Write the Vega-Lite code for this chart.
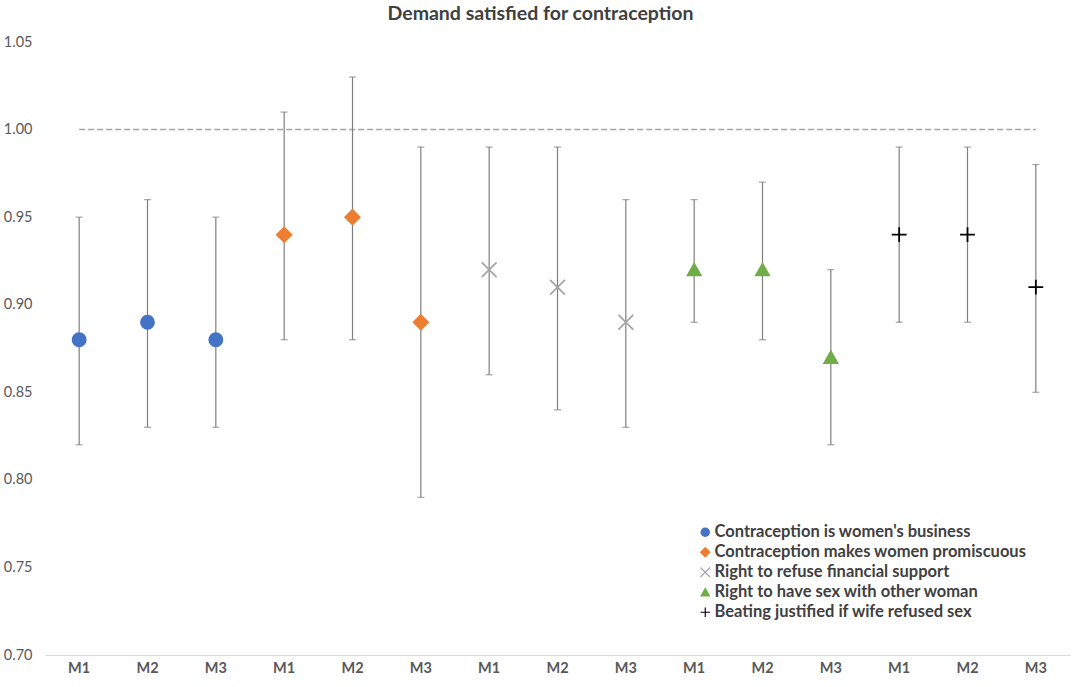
{
  "$schema": "https://vega.github.io/schema/vega-lite/v6.json",
  "width": 1025,
  "height": 613,
  "autosize": "none",
  "padding": {"left": 45, "top": 42, "right": 2, "bottom": 32},
  "background": "white",
  "title": {
    "text": "Demand satisfied for contraception",
    "fontSize": 19.5, "font": "Lato", "fontWeight": "bold", "color": "#404040",
    "anchor": "middle", "dx": -17, "offset": 10
  },
  "datasets": {
    "points": [
      {"key": "1|M1", "series": "Contraception is women's business", "value": 0.88, "lo": 0.82, "hi": 0.95},
      {"key": "1|M2", "series": "Contraception is women's business", "value": 0.89, "lo": 0.83, "hi": 0.96},
      {"key": "1|M3", "series": "Contraception is women's business", "value": 0.88, "lo": 0.83, "hi": 0.95},
      {"key": "2|M1", "series": "Contraception makes women promiscuous", "value": 0.94, "lo": 0.88, "hi": 1.01},
      {"key": "2|M2", "series": "Contraception makes women promiscuous", "value": 0.95, "lo": 0.88, "hi": 1.03},
      {"key": "2|M3", "series": "Contraception makes women promiscuous", "value": 0.89, "lo": 0.79, "hi": 0.99},
      {"key": "3|M1", "series": "Right to refuse financial support", "value": 0.92, "lo": 0.86, "hi": 0.99},
      {"key": "3|M2", "series": "Right to refuse financial support", "value": 0.91, "lo": 0.84, "hi": 0.99},
      {"key": "3|M3", "series": "Right to refuse financial support", "value": 0.89, "lo": 0.83, "hi": 0.96},
      {"key": "4|M1", "series": "Right to have sex with other woman", "value": 0.92, "lo": 0.89, "hi": 0.96},
      {"key": "4|M2", "series": "Right to have sex with other woman", "value": 0.92, "lo": 0.88, "hi": 0.97},
      {"key": "4|M3", "series": "Right to have sex with other woman", "value": 0.87, "lo": 0.82, "hi": 0.92},
      {"key": "5|M1", "series": "Beating justified if wife refused sex", "value": 0.94, "lo": 0.89, "hi": 0.99},
      {"key": "5|M2", "series": "Beating justified if wife refused sex", "value": 0.94, "lo": 0.89, "hi": 0.99},
      {"key": "5|M3", "series": "Beating justified if wife refused sex", "value": 0.91, "lo": 0.85, "hi": 0.98}
    ],
    "ref": [
      {"key": "1|M1", "value": 1.0},
      {"key": "5|M3", "value": 1.0}
    ]
  },
  "encoding": {
    "x": {
      "field": "key", "type": "nominal", "title": null,
      "scale": {
        "domain": ["1|M1", "1|M2", "1|M3", "2|M1", "2|M2", "2|M3", "3|M1", "3|M2", "3|M3", "4|M1", "4|M2", "4|M3", "5|M1", "5|M2", "5|M3"],
        "paddingInner": 0, "paddingOuter": 0
      },
      "axis": {
        "labelExpr": "split(datum.label, '|')[1]",
        "labelAngle": 0, "labelFont": "Lato", "labelFontSize": 14.5, "labelFontWeight": "bold",
        "labelColor": "#595959", "labelPadding": 6,
        "ticks": false, "domainColor": "#D9D9D9", "domainWidth": 1
      }
    }
  },
  "layer": [
    {
      "data": {"name": "ref"},
      "mark": {"type": "line", "color": "#A5A5A5", "strokeDash": [6, 3], "strokeWidth": 1.5},
      "encoding": {
        "y": {
          "field": "value", "type": "quantitative", "title": null,
          "scale": {"domain": [0.7, 1.05], "nice": false, "zero": false},
          "axis": {
            "values": [0.7, 0.75, 0.8, 0.85, 0.9, 0.95, 1.0, 1.05], "format": ".2f",
            "grid": false, "domain": false, "ticks": false,
            "labelFont": "Lato", "labelFontSize": 14.5, "labelColor": "#595959", "labelPadding": 13
          }
        }
      }
    },
    {
      "data": {"name": "points"},
      "mark": {"type": "rule", "color": "#7F7F7F", "strokeWidth": 1.2},
      "encoding": {
        "y": {"field": "lo", "type": "quantitative"},
        "y2": {"field": "hi"}
      }
    },
    {
      "data": {"name": "points"},
      "mark": {"type": "tick", "color": "#7F7F7F", "thickness": 1.2, "size": 7, "orient": "horizontal"},
      "encoding": {"y": {"field": "lo", "type": "quantitative"}}
    },
    {
      "data": {"name": "points"},
      "mark": {"type": "tick", "color": "#7F7F7F", "thickness": 1.2, "size": 7, "orient": "horizontal"},
      "encoding": {"y": {"field": "hi", "type": "quantitative"}}
    },
    {
      "data": {"name": "points"},
      "mark": {"type": "point", "filled": true, "opacity": 1, "size": 220, "strokeWidth": 0},
      "encoding": {
        "y": {"field": "value", "type": "quantitative"},
        "color": {
          "field": "series", "type": "nominal", "title": null,
          "scale": {
            "domain": ["Contraception is women's business", "Contraception makes women promiscuous", "Right to refuse financial support", "Right to have sex with other woman", "Beating justified if wife refused sex"],
            "range": ["#4472C4", "#ED7D31", "#A5A5A5", "#70AD47", "#000000"]
          }
        },
        "shape": {
          "field": "series", "type": "nominal", "title": null,
          "scale": {
            "domain": ["Contraception is women's business", "Contraception makes women promiscuous", "Right to refuse financial support", "Right to have sex with other woman", "Beating justified if wife refused sex"],
            "range": [
              "circle",
              "M0,-1.15L1.15,0L0,1.15L-1.15,0Z",
              "M-0.915,-1.085L1.085,0.915L0.915,1.085L-1.085,-0.915ZM-0.915,1.085L-1.085,0.915L0.915,-1.085L1.085,-0.915Z",
              "M0,-1.05L1.1,0.9L-1.1,0.9Z",
              "M-1,-0.12H-0.12V-1H0.12V-0.12H1V0.12H0.12V1H-0.12V0.12H-1Z"
            ]
          }
        }
      }
    }
  ],
  "config": {
    "view": {"stroke": null},
    "legend": {
      "orient": "none", "legendX": 652, "legendY": 482,
      "labelFont": "Lato", "labelFontSize": 16.5, "labelFontWeight": "bold", "labelColor": "#404040",
      "symbolSize": 90, "rowPadding": 3, "labelOffset": 1, "symbolStrokeWidth": 0,
      "labelLimit": 400
    }
  }
}
